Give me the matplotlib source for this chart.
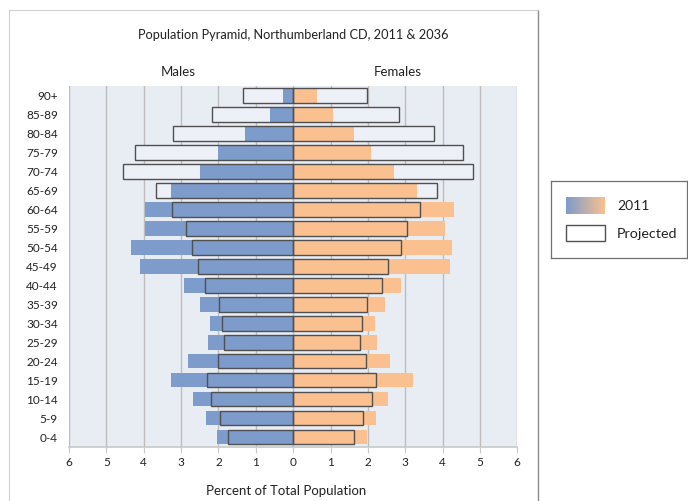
import matplotlib
matplotlib.use("Agg")
import matplotlib.pyplot as plt
import numpy as np
from matplotlib.patches import Rectangle
from matplotlib.colors import LinearSegmentedColormap

plt.rcParams['font.family'] = ['Lato', 'DejaVu Sans']

age_groups = ["90+", "85-89", "80-84", "75-79", "70-74", "65-69", "60-64", "55-59",
              "50-54", "45-49", "40-44", "35-39", "30-34", "25-29", "20-24", "15-19",
              "10-14", "5-9", "0-4"]
males_2011 = [0.27, 0.62, 1.29, 2.01, 2.50, 3.26, 3.96, 3.97, 4.35, 4.11,
              2.93, 2.50, 2.23, 2.27, 2.82, 3.26, 2.67, 2.32, 2.04]
males_proj = [1.34, 2.16, 3.21, 4.24, 4.55, 3.68, 3.24, 2.87, 2.71, 2.54,
              2.35, 1.99, 1.91, 1.85, 2.02, 2.30, 2.20, 1.96, 1.74]
females_2011 = [0.63, 1.08, 1.63, 2.08, 2.70, 3.31, 4.31, 4.06, 4.25, 4.20,
                2.90, 2.47, 2.18, 2.24, 2.59, 3.22, 2.55, 2.23, 1.99]
females_proj = [1.98, 2.84, 3.77, 4.55, 4.81, 3.85, 3.39, 3.04, 2.88, 2.55,
                2.39, 1.99, 1.83, 1.79, 1.96, 2.21, 2.11, 1.88, 1.63]
x_ticks = [-6, -5, -4, -3, -2, -1, 0, 1, 2, 3, 4, 5, 6]
x_tick_labels = ["6", "5", "4", "3", "2", "1", "0", "1", "2", "3", "4", "5", "6"]

W, H = 688, 501
fig = plt.figure(figsize=(W / 100, H / 100), dpi=100)

# outer chart frame
frame = fig.add_axes([9 / W, -0.01, (538 - 9) / W, 1 - 10 / H + 0.01])
frame.set_xticks([]); frame.set_yticks([])
frame.patch.set_alpha(0)
frame.spines['bottom'].set_visible(False)
for s in ['top', 'left']:
    frame.spines[s].set_color('#d0d0d0')
frame.spines['right'].set_color('#8a8a8a')
frame.spines['right'].set_linewidth(1.0)

left, right, top, bottom = 69, 517.3, 86, 446.7
ax = fig.add_axes([left / W, 1 - bottom / H, (right - left) / W, (bottom - top) / H])
ax.set_facecolor('#E8ECF3')

y = np.arange(len(age_groups))
h = 0.76
blue = '#7D9BCB'
orange = '#FAC090'

ax.barh(y, [-v for v in males_proj], height=h, color='#EDF0F6', zorder=2)
ax.barh(y, females_proj, height=h, color='#EDF0F6', zorder=2)
ax.barh(y, [-v for v in males_2011], height=h, color=blue, zorder=3)
ax.barh(y, females_2011, height=h, color=orange, zorder=3)
ax.barh(y, [-v for v in males_proj], height=h, facecolor='none', edgecolor='#505050', linewidth=1.0, zorder=4)
ax.barh(y, females_proj, height=h, facecolor='none', edgecolor='#505050', linewidth=1.0, zorder=4)

ax.set_xlim(-6, 6)
ax.set_ylim(len(age_groups) - 0.5, -0.5)
ax.set_xticks(x_ticks)
ax.set_xticklabels(x_tick_labels, fontsize=8.5, color='#222222')
ax.set_yticks(y)
ax.set_yticklabels(age_groups, fontsize=8.5, color='#222222')
ax.xaxis.grid(True, color='#BDBDBD', linewidth=1.0, zorder=1)
ax.set_axisbelow(True)
ax.tick_params(axis='y', length=0, pad=8)
ax.tick_params(axis='x', length=4, color='#C8C8C8', pad=3.5)
for s in ['top', 'right', 'left']:
    ax.spines[s].set_visible(False)
ax.spines['bottom'].set_color('#C8C8C8')
ax.spines['bottom'].set_linewidth(1.2)

ax.set_xlabel("Percent of Total Population", fontsize=9.5, color='#222222')
ax.xaxis.set_label_coords((286.5 - left) / (right - left), -(491 - bottom) / (bottom - top))
ax.xaxis.label.set_va('center')

fig.text(293 / W, 1 - 35 / H, "Population Pyramid, Northumberland CD, 2011 & 2036",
         ha='center', va='center', fontsize=9.2, color='#222222')
fig.text(178 / W, 1 - 72 / H, "Males", ha='center', va='center', fontsize=9.5, color='#222222')
fig.text(398 / W, 1 - 72 / H, "Females", ha='center', va='center', fontsize=9.5, color='#222222')

# legend box
lg = fig.add_axes([551 / W, 1 - 258 / H, (687 - 551) / W, (258 - 181.5) / H])
lg.set_xticks([]); lg.set_yticks([])
for s in lg.spines.values():
    s.set_color('#707070'); s.set_linewidth(0.9)
cmap = LinearSegmentedColormap.from_list('g', [blue, orange])
grad = np.linspace(0, 1, 256).reshape(1, -1)
lg.imshow(grad, cmap=cmap, aspect='auto', extent=[566, 605, 214.3, 197.3], zorder=2)
lg.add_patch(Rectangle((566, 225), 39, 16, facecolor='white', edgecolor='#505050', linewidth=1.0, zorder=2))
lg.text(617, 206, "2011", ha='left', va='center', fontsize=10, color='#222222')
lg.text(617, 233.5, "Projected", ha='left', va='center', fontsize=10.3, color='#222222')
lg.set_xlim(551, 687); lg.set_ylim(258, 181.5)

fig.savefig("out.png", dpi=100)
